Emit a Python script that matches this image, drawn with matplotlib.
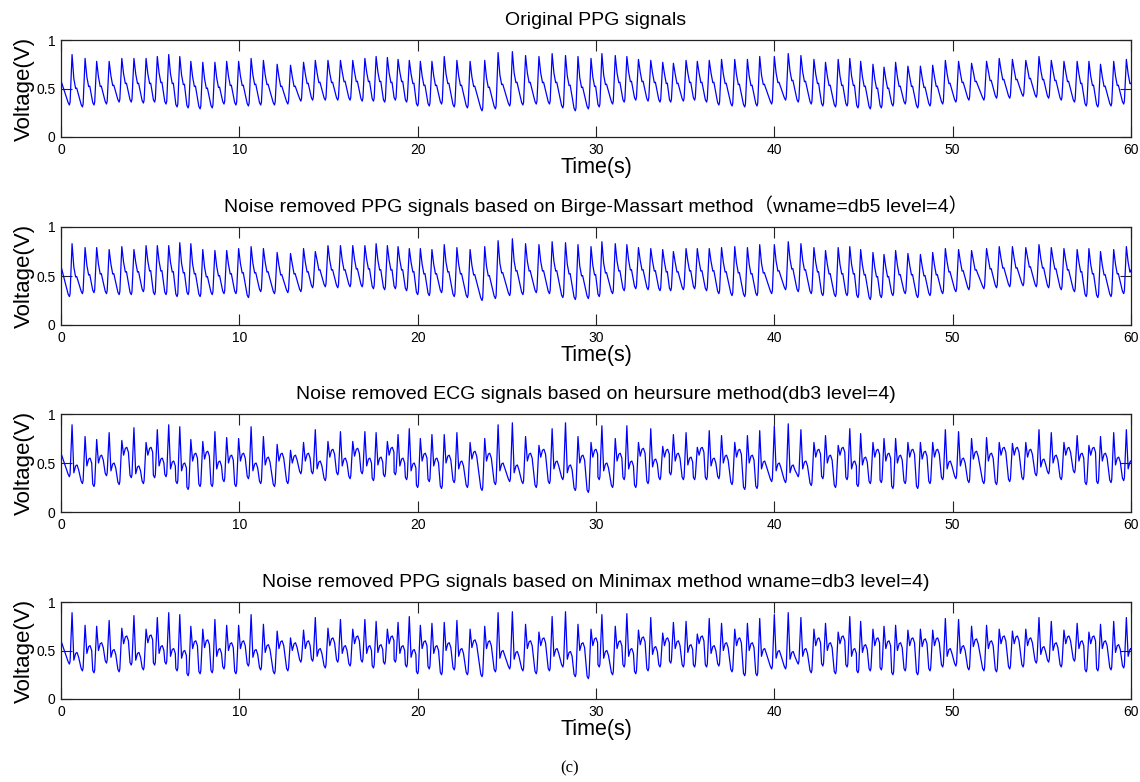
import matplotlib
matplotlib.use('Agg')
import matplotlib.pyplot as plt

plt.rcParams['font.family'] = ['Liberation Sans', 'Noto Sans CJK SC', 'DejaVu Sans']

# Peak times (s) of each pulse, shared by all four traces
beat_t = [0.62, 1.35, 2.00, 2.70, 3.41, 4.09, 4.77, 5.40, 6.04, 6.66, 7.28, 7.95, 8.63, 9.29,
          9.96, 10.66, 11.35, 12.12, 12.87, 13.60, 14.26, 14.97, 15.67, 16.36, 17.04, 17.67, 18.30,
          18.90, 19.53, 20.15, 20.80, 21.49, 22.20, 22.94, 23.76, 24.51, 25.31, 26.05, 26.80, 27.54,
          28.29, 28.99, 29.72, 30.33, 31.08, 31.73, 32.38, 33.07, 33.74, 34.34, 35.05, 35.68, 36.35,
          37.04, 37.78, 38.49, 39.18, 40.00,
          40.78, 41.49, 42.22, 42.87, 43.58, 44.23, 44.84, 45.53, 46.15, 46.80, 47.49, 48.19, 48.88,
          49.59, 50.33, 51.06, 51.90, 52.61, 53.35, 54.10, 54.84, 55.53, 56.24, 56.98, 57.64, 58.29,
          59.03, 59.74]

# Original PPG
orig_peak = [0.85, 0.81, 0.78, 0.78, 0.81, 0.81, 0.81, 0.83, 0.85, 0.83, 0.78, 0.77, 0.77, 0.78,
             0.78, 0.81, 0.79, 0.75, 0.74, 0.77, 0.79, 0.79, 0.79, 0.79, 0.81, 0.83, 0.82,
             0.80, 0.79, 0.78, 0.78, 0.83, 0.79, 0.78, 0.79, 0.87, 0.88, 0.84, 0.83, 0.86, 0.84,
             0.83, 0.81, 0.86, 0.84, 0.83, 0.80, 0.79, 0.77, 0.76, 0.79, 0.78, 0.79, 0.80, 0.80,
             0.80, 0.83, 0.83,
             0.86, 0.84, 0.80, 0.77, 0.80, 0.81, 0.78, 0.75, 0.72, 0.77, 0.73, 0.73, 0.74, 0.79,
             0.78, 0.76, 0.78, 0.81, 0.80, 0.79, 0.83, 0.79, 0.78, 0.78, 0.78, 0.75, 0.78, 0.80]
orig_trough = [0.33, 0.31, 0.33, 0.34, 0.36, 0.36, 0.35, 0.36, 0.34, 0.31, 0.30, 0.29, 0.30, 0.34,
               0.33, 0.32, 0.33, 0.33, 0.34, 0.37, 0.38, 0.38, 0.38, 0.38, 0.37, 0.37, 0.36,
               0.38, 0.36, 0.32, 0.32, 0.34, 0.31, 0.30, 0.27, 0.29, 0.32, 0.33, 0.34, 0.34, 0.30,
               0.27, 0.29, 0.31, 0.34, 0.36, 0.38, 0.37, 0.36, 0.36, 0.37, 0.38, 0.36, 0.33, 0.32,
               0.31, 0.32, 0.34,
               0.38, 0.36, 0.34, 0.32, 0.31, 0.32, 0.30, 0.29, 0.30, 0.32, 0.34, 0.30, 0.32, 0.34,
               0.36, 0.38, 0.38, 0.40, 0.40, 0.42, 0.41, 0.40, 0.38, 0.36, 0.32, 0.31, 0.32, 0.34]
orig_notch = [0.50, 0.52, 0.52, 0.53, 0.55, 0.55, 0.55, 0.56, 0.55, 0.54, 0.52, 0.50, 0.51, 0.53,
              0.53, 0.54, 0.54, 0.52, 0.52, 0.55, 0.56, 0.56, 0.57, 0.57, 0.57, 0.57, 0.56,
              0.57, 0.55, 0.53, 0.53, 0.55, 0.53, 0.52, 0.51, 0.54, 0.56, 0.56, 0.56, 0.56, 0.53,
              0.51, 0.52, 0.54, 0.56, 0.57, 0.57, 0.56, 0.55, 0.55, 0.56, 0.56, 0.56, 0.55, 0.54,
              0.53, 0.54, 0.56,
              0.58, 0.57, 0.55, 0.53, 0.53, 0.53, 0.52, 0.50, 0.50, 0.52, 0.52, 0.51, 0.52, 0.55,
              0.56, 0.57, 0.58, 0.59, 0.59, 0.60, 0.59, 0.58, 0.57, 0.55, 0.53, 0.52, 0.53, 0.55]

# Birge-Massart denoised
bm_peak = [0.83, 0.79, 0.79, 0.77, 0.80, 0.77, 0.81, 0.81, 0.81, 0.84, 0.83, 0.77, 0.76, 0.76,
           0.78, 0.80, 0.78, 0.74, 0.73, 0.78, 0.75, 0.81, 0.81, 0.81, 0.81, 0.83, 0.81,
           0.80, 0.78, 0.78, 0.77, 0.82, 0.79, 0.77, 0.80, 0.86, 0.88, 0.83, 0.82, 0.85, 0.84,
           0.82, 0.80, 0.85, 0.83, 0.82, 0.79, 0.78, 0.77, 0.75, 0.78, 0.78, 0.78, 0.79, 0.80,
           0.79, 0.82, 0.82,
           0.85, 0.83, 0.79, 0.76, 0.79, 0.80, 0.77, 0.74, 0.72, 0.76, 0.73, 0.72, 0.74, 0.78,
           0.77, 0.76, 0.78, 0.80, 0.80, 0.79, 0.82, 0.79, 0.78, 0.77, 0.78, 0.75, 0.77, 0.80]
bm_trough = [0.29, 0.32, 0.33, 0.32, 0.31, 0.31, 0.34, 0.31, 0.31, 0.29, 0.31, 0.29, 0.31, 0.32,
             0.32, 0.28, 0.34, 0.32, 0.33, 0.34, 0.38, 0.39, 0.38, 0.39, 0.39, 0.37, 0.36,
             0.37, 0.35, 0.31, 0.30, 0.33, 0.29, 0.28, 0.25, 0.27, 0.30, 0.31, 0.33, 0.32, 0.28,
             0.26, 0.27, 0.29, 0.32, 0.35, 0.37, 0.36, 0.35, 0.35, 0.36, 0.37, 0.35, 0.32, 0.30,
             0.29, 0.30, 0.32,
             0.36, 0.34, 0.32, 0.30, 0.29, 0.30, 0.28, 0.26, 0.28, 0.30, 0.32, 0.28, 0.30, 0.32,
             0.34, 0.36, 0.37, 0.38, 0.39, 0.40, 0.39, 0.38, 0.36, 0.34, 0.29, 0.28, 0.29, 0.32]
bm_notch = [0.49, 0.51, 0.52, 0.52, 0.54, 0.54, 0.55, 0.55, 0.54, 0.53, 0.52, 0.49, 0.50, 0.52,
            0.53, 0.53, 0.54, 0.51, 0.52, 0.54, 0.56, 0.56, 0.56, 0.57, 0.57, 0.56, 0.56,
            0.56, 0.54, 0.52, 0.52, 0.54, 0.52, 0.51, 0.50, 0.53, 0.55, 0.55, 0.55, 0.55, 0.52,
            0.50, 0.51, 0.53, 0.55, 0.56, 0.56, 0.55, 0.54, 0.54, 0.55, 0.55, 0.55, 0.54, 0.53,
            0.52, 0.53, 0.55,
            0.57, 0.56, 0.54, 0.52, 0.52, 0.52, 0.51, 0.49, 0.49, 0.51, 0.51, 0.50, 0.51, 0.54,
            0.55, 0.56, 0.57, 0.58, 0.58, 0.59, 0.58, 0.57, 0.56, 0.54, 0.52, 0.51, 0.52, 0.54]

# heursure denoised
hs_peak = [0.89, 0.77, 0.74, 0.81, 0.73, 0.86, 0.71, 0.84, 0.89, 0.87, 0.74, 0.72, 0.82, 0.76,
           0.75, 0.87, 0.77, 0.69, 0.63, 0.71, 0.84, 0.72, 0.82, 0.72, 0.82, 0.81, 0.72,
           0.79, 0.85, 0.75, 0.79, 0.79, 0.81, 0.71, 0.75, 0.89, 0.91, 0.77, 0.68, 0.85, 0.91,
           0.77, 0.71, 0.88, 0.75, 0.88, 0.71, 0.85, 0.67, 0.79, 0.81, 0.66, 0.83, 0.78, 0.71,
           0.78, 0.83, 0.88,
           0.90, 0.84, 0.71, 0.78, 0.68, 0.85, 0.80, 0.71, 0.75, 0.75, 0.71, 0.71, 0.71, 0.84,
           0.82, 0.75, 0.76, 0.71, 0.70, 0.71, 0.84, 0.81, 0.71, 0.78, 0.68, 0.77, 0.81, 0.84]
hs_trough = [0.36, 0.29, 0.26, 0.37, 0.28, 0.35, 0.29, 0.35, 0.36, 0.29, 0.23, 0.26, 0.26, 0.31,
             0.26, 0.34, 0.29, 0.26, 0.29, 0.39, 0.39, 0.32, 0.38, 0.34, 0.39, 0.32, 0.36,
             0.38, 0.33, 0.25, 0.31, 0.24, 0.30, 0.25, 0.22, 0.28, 0.31, 0.29, 0.25, 0.29, 0.33,
             0.22, 0.20, 0.33, 0.25, 0.33, 0.25, 0.29, 0.33, 0.38, 0.33, 0.33, 0.33, 0.34, 0.28,
             0.23, 0.24, 0.31,
             0.30, 0.36, 0.27, 0.34, 0.25, 0.33, 0.26, 0.29, 0.30, 0.24, 0.29, 0.24, 0.29, 0.33,
             0.34, 0.30, 0.29, 0.28, 0.31, 0.33, 0.37, 0.39, 0.33, 0.40, 0.28, 0.29, 0.30, 0.32]
hs_notch = [0.48, 0.55, 0.58, 0.50, 0.66, 0.47, 0.66, 0.55, 0.52, 0.50, 0.60, 0.62, 0.52, 0.58,
            0.60, 0.50, 0.56, 0.60, 0.58, 0.60, 0.52, 0.64, 0.55, 0.65, 0.55, 0.56, 0.66,
            0.55, 0.50, 0.60, 0.55, 0.58, 0.52, 0.62, 0.60, 0.50, 0.48, 0.60, 0.64, 0.52, 0.48,
            0.58, 0.64, 0.50, 0.60, 0.52, 0.65, 0.54, 0.64, 0.60, 0.56, 0.66, 0.55, 0.58, 0.64,
            0.58, 0.52, 0.50,
            0.48, 0.52, 0.64, 0.58, 0.66, 0.52, 0.56, 0.64, 0.60, 0.58, 0.64, 0.62, 0.64, 0.52,
            0.55, 0.62, 0.60, 0.66, 0.66, 0.64, 0.54, 0.58, 0.66, 0.60, 0.66, 0.60, 0.56, 0.52]

# Minimax denoised
mm_peak = [0.89, 0.76, 0.75, 0.81, 0.73, 0.86, 0.72, 0.84, 0.89, 0.87, 0.75, 0.72, 0.82, 0.76,
           0.76, 0.87, 0.77, 0.70, 0.63, 0.71, 0.84, 0.73, 0.82, 0.72, 0.82, 0.80, 0.72,
           0.79, 0.85, 0.76, 0.78, 0.79, 0.81, 0.72, 0.75, 0.89, 0.90, 0.77, 0.69, 0.85, 0.90,
           0.77, 0.72, 0.87, 0.75, 0.88, 0.71, 0.84, 0.68, 0.79, 0.80, 0.67, 0.83, 0.78, 0.72,
           0.78, 0.83, 0.87,
           0.89, 0.84, 0.72, 0.78, 0.69, 0.85, 0.80, 0.72, 0.75, 0.76, 0.71, 0.72, 0.71, 0.83,
           0.82, 0.75, 0.76, 0.72, 0.70, 0.72, 0.84, 0.80, 0.71, 0.78, 0.69, 0.77, 0.80, 0.84]
mm_trough = [0.36, 0.29, 0.27, 0.37, 0.28, 0.35, 0.30, 0.35, 0.36, 0.29, 0.24, 0.26, 0.27, 0.31,
             0.26, 0.34, 0.30, 0.26, 0.29, 0.38, 0.39, 0.32, 0.38, 0.34, 0.38, 0.32, 0.36,
             0.38, 0.33, 0.26, 0.31, 0.25, 0.30, 0.25, 0.23, 0.28, 0.31, 0.29, 0.26, 0.29, 0.33,
             0.23, 0.21, 0.33, 0.25, 0.33, 0.26, 0.29, 0.33, 0.37, 0.33, 0.33, 0.33, 0.34, 0.28,
             0.24, 0.24, 0.31,
             0.31, 0.36, 0.27, 0.34, 0.26, 0.33, 0.27, 0.29, 0.30, 0.25, 0.29, 0.25, 0.29, 0.33,
             0.34, 0.30, 0.29, 0.28, 0.31, 0.33, 0.37, 0.38, 0.33, 0.39, 0.28, 0.29, 0.30, 0.32]
mm_notch = [0.48, 0.55, 0.58, 0.51, 0.65, 0.48, 0.66, 0.55, 0.52, 0.50, 0.60, 0.61, 0.52, 0.58,
            0.60, 0.51, 0.56, 0.60, 0.58, 0.60, 0.52, 0.63, 0.55, 0.65, 0.55, 0.56, 0.65,
            0.55, 0.51, 0.60, 0.55, 0.58, 0.52, 0.61, 0.60, 0.50, 0.49, 0.60, 0.63, 0.52, 0.49,
            0.58, 0.63, 0.50, 0.60, 0.52, 0.64, 0.54, 0.63, 0.60, 0.56, 0.65, 0.55, 0.58, 0.63,
            0.58, 0.52, 0.50,
            0.49, 0.52, 0.63, 0.58, 0.65, 0.52, 0.56, 0.63, 0.60, 0.58, 0.63, 0.62, 0.63, 0.52,
            0.55, 0.62, 0.60, 0.65, 0.65, 0.63, 0.54, 0.58, 0.65, 0.60, 0.65, 0.60, 0.56, 0.52]

start_v = [0.58, 0.60, 0.60, 0.60]
end_v = [0.55, 0.56, 0.52, 0.52]

titles = ['Original PPG signals',
          'Noise removed PPG signals based on Birge-Massart method\uff08wname=db5 level=4\uff09',
          'Noise removed ECG signals based on heursure method(db3 level=4)',
          'Noise removed PPG signals based on Minimax method wname=db3 level=4)']
series = [(orig_peak, orig_trough, orig_notch),
          (bm_peak, bm_trough, bm_notch),
          (hs_peak, hs_trough, hs_notch),
          (mm_peak, mm_trough, mm_notch)]
show_xlabel = [True, True, False, True]

# pulse shape after the peak: (time offset, offset from notch level)
shape_smooth = [(0.10, 0.10), (0.20, 0.0), (0.26, 0.005)]
shape_hump = [(0.10, -0.08), (0.20, -0.01), (0.28, 0.0), (0.37, -0.05)]
shapes = [shape_smooth, shape_smooth, shape_hump, shape_hump]
rise = 0.15
bottom = [(-0.07, 0.025), (0.0, 0.0), (0.04, 0.03)]   # rounded foot of each pulse


def pulse_trace(peaks, troughs, notches, shape, v0, v1):
    tt, vv = [0.0], [v0]
    for i, tp in enumerate(beat_t):
        for dt, dv in bottom:
            tt.append(tp - rise + dt)
            vv.append(troughs[i] + dv)
        tt.append(tp)
        vv.append(peaks[i])
        for dt, dv in shape:
            tt.append(tp + dt)
            vv.append(notches[i] + dv)
    tt.append(60.0)
    vv.append(v1)
    return tt, vv


for s in series:
    assert len(s[0]) == len(beat_t) and len(s[1]) == len(beat_t) and len(s[2]) == len(beat_t)

fig = plt.figure(figsize=(11.4, 7.82), dpi=100)
W, H = 1140.0, 782.0
boxes = [(40, 137), (227, 325), (414, 512), (602, 699)]

for k in range(4):
    top, bot = boxes[k]
    ax = fig.add_axes([61 / W, 1 - bot / H, (1131 - 61) / W, (bot - top) / H])
    p, tr, n = series[k]
    t, v = pulse_trace(p, tr, n, shapes[k], start_v[k], end_v[k])
    ax.plot(t, v, color='#0000ff', lw=0.9)
    ax.set_xlim(0, 60)
    ax.set_ylim(0, 1)
    ax.set_xticks([0, 10, 20, 30, 40, 50, 60])
    ax.set_yticks([0, 0.5, 1])
    ax.set_yticklabels(['0', '0.5', '1'])
    ax.tick_params(direction='in', length=8, width=0.8, top=True, right=True,
                   labelsize=10, colors='#222222', labelcolor='black')
    ax.tick_params(axis='x', pad=4)
    ax.tick_params(axis='y', pad=4)
    for sp in ax.spines.values():
        sp.set_linewidth(0.9)
        sp.set_color('#222222')
    ax.set_title(titles[k], fontsize=14, pad=10.5)
    ax.set_ylabel('Voltage(V)', fontsize=16, labelpad=1)
    if show_xlabel[k]:
        ax.set_xlabel('Time(s)', fontsize=15.5, labelpad=0)

fig.text(0.5, 1 - 768 / H, '(c)', ha='center', va='center',
         fontsize=12, family='Liberation Serif')

fig.savefig('out.png', dpi=100)
